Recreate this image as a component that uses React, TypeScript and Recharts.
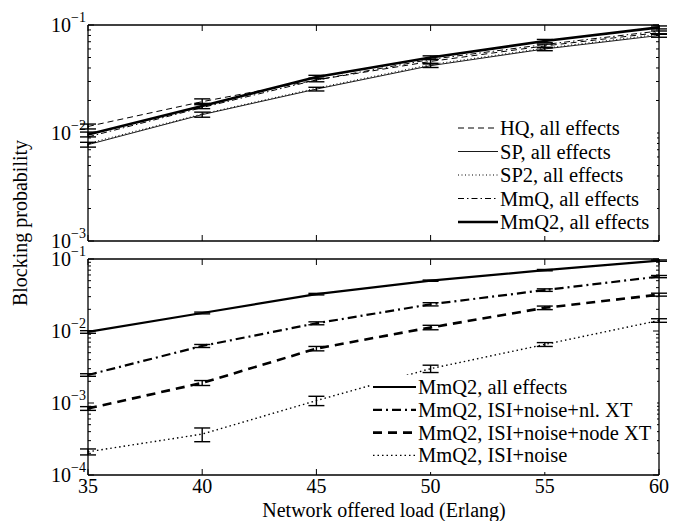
import React from "react";
import { LineChart, Line, XAxis, YAxis, ErrorBar } from "recharts";

// offered load (Erlang)
const loads = [35, 40, 45, 50, 55, 60];

// top panel: all effects, per routing scheme
const hq = [0.0115, 0.0195, 0.031, 0.046, 0.064, 0.085];
const sp = [0.0078, 0.0148, 0.0255, 0.042, 0.06, 0.08];
const sp2 = [0.008, 0.015, 0.026, 0.043, 0.061, 0.082];
const mmq = [0.0092, 0.0172, 0.031, 0.048, 0.066, 0.088];
const mmq2 = [0.0097, 0.0178, 0.033, 0.05, 0.071, 0.095];
const hqErr = [0.0006, 0.0012, 0.0012, 0.0018, 0.0025, 0.003];
const spErr = [0.0004, 0.0008, 0.001, 0.0016, 0.0022, 0.003];
const mmq2Err = [0.0005, 0.001, 0.0012, 0.0018, 0.0025, 0.003];

// bottom panel: MmQ2 with effects switched off
const allEffects = [0.0097, 0.0178, 0.0325, 0.05, 0.07, 0.095];
const nlXT = [0.00245, 0.0062, 0.0128, 0.0235, 0.037, 0.057];
const nodeXT = [0.00084, 0.0019, 0.0057, 0.0112, 0.021, 0.032];
const isiNoise = [0.00021, 0.00037, 0.00108, 0.003, 0.0065, 0.014];
const allEffectsErr = [0.0004, 0.0005, 0.0008, 0.001, 0.0015, 0.002];
const nlXTErr = [0.0001, 0.0003, 0.0006, 0.0012, 0.0015, 0.002];
const nodeXTErr = [0.00005, 0.00015, 0.0004, 0.0008, 0.0012, 0.0015];
const isiNoiseErr = [0.00002, 0.00008, 0.00016, 0.00035, 0.0004, 0.0008];

const xTicks = [35, 40, 45, 50, 55, 60];
const topTicks = [1e-3, 2e-3, 3e-3, 4e-3, 5e-3, 6e-3, 7e-3, 8e-3, 9e-3, 1e-2, 2e-2, 3e-2, 4e-2, 5e-2, 6e-2, 7e-2, 8e-2, 9e-2, 1e-1];
const bottomTicks = [1e-4, 2e-4, 3e-4, 4e-4, 5e-4, 6e-4, 7e-4, 8e-4, 9e-4, ...topTicks];

const topData = loads.map((x, i) => ({
  x, hq: hq[i], sp: sp[i], sp2: sp2[i], mmq: mmq[i], mmq2: mmq2[i],
  hqErr: hqErr[i], spErr: spErr[i], mmq2Err: mmq2Err[i],
}));
const bottomData = loads.map((x, i) => ({
  x, all: allEffects[i], nl: nlXT[i], node: nodeXT[i], isi: isiNoise[i],
  allErr: allEffectsErr[i], nlErr: nlXTErr[i], nodeErr: nodeXTErr[i], isiErr: isiNoiseErr[i],
}));

const FONT = "'Liberation Serif', 'Times New Roman', serif";

const isDecade = (v: number) => Math.abs(Math.log10(v) - Math.round(Math.log10(v))) < 1e-6;

function LeftTick({ x, y, payload }: any) {
  const v = payload.value;
  const major = isDecade(v);
  const exp = -Math.round(Math.log10(v));
  return (
    <g>
      <line x1={x} x2={x + (major ? 6 : 3)} y1={y} y2={y} stroke="#000" strokeWidth={1} />
      {major && (
        <text x={x - 2} y={y + 7} textAnchor="end" fontSize={20} fontFamily={FONT} fill="#000">
          10<tspan dy={-10} fontSize={14}>{`\u2212${exp}`}</tspan>
        </text>
      )}
    </g>
  );
}

function RightTick({ x, y, payload }: any) {
  const major = isDecade(payload.value);
  return <line x1={x} x2={x - (major ? 6 : 3)} y1={y} y2={y} stroke="#000" strokeWidth={1} />;
}

function BottomTick({ x, y, payload, labels }: any) {
  return (
    <g>
      <line x1={x} x2={x} y1={y} y2={y - 6} stroke="#000" strokeWidth={1} />
      {labels && (
        <text x={x} y={y + 18} textAnchor="middle" fontSize={20} fontFamily={FONT} fill="#000">
          {payload.value}
        </text>
      )}
    </g>
  );
}

function TopTick({ x, y }: any) {
  return <line x1={x} x2={x} y1={y} y2={y + 6} stroke="#000" strokeWidth={1} />;
}

function Axes({ ticks, domain, labels, bottomH, topH }: { ticks: number[]; domain: [number, number]; labels: boolean; bottomH: number; topH: number }) {
  const axisLine = { stroke: "#000", strokeWidth: 1.3 };
  return [
    <XAxis key="xb" dataKey="x" type="number" domain={[35, 60]} ticks={xTicks} height={bottomH}
      tickSize={0} tickMargin={0} tickLine={false} axisLine={axisLine}
      tick={<BottomTick labels={labels} />} interval={0} />,
    <XAxis key="xt" xAxisId="t" dataKey="x" type="number" orientation="top" domain={[35, 60]} ticks={xTicks}
      height={topH} tickSize={0} tickMargin={0} tickLine={false} axisLine={axisLine} tick={<TopTick />} interval={0} />,
    <YAxis key="yl" type="number" scale="log" domain={domain} allowDataOverflow ticks={ticks} width={88}
      tickSize={0} tickMargin={0} tickLine={false} axisLine={axisLine} tick={<LeftTick />} interval={0} />,
    <YAxis key="yr" yAxisId="r" orientation="right" type="number" scale="log" domain={domain} allowDataOverflow
      ticks={ticks} width={24} tickSize={0} tickMargin={0} tickLine={false} axisLine={axisLine}
      tick={<RightTick />} interval={0} />,
  ];
}

const eb = (key: string) => (
  <ErrorBar dataKey={key} width={8} stroke="#000" strokeWidth={1.4} direction="y" isAnimationActive={false} />
);

type LegendRow = { label: string; dash?: string; width: number };

const topLegend: LegendRow[] = [
  { label: "HQ, all effects", dash: "6 4", width: 1 },
  { label: "SP, all effects", width: 0.9 },
  { label: "SP2, all effects", dash: "1 2.5", width: 1 },
  { label: "MmQ, all effects", dash: "6 3 1.5 3", width: 1 },
  { label: "MmQ2, all effects", width: 2.6 },
];
const bottomLegend: LegendRow[] = [
  { label: "MmQ2, all effects", width: 2.2 },
  { label: "MmQ2, ISI+noise+nl. XT", dash: "9 4 2 4", width: 2.2 },
  { label: "MmQ2, ISI+noise+node XT", dash: "9 6", width: 2.6 },
  { label: "MmQ2, ISI+noise", dash: "1.5 3", width: 1.4 },
];

function LegendBox({ rows, x, y, w, h, lineW, step, fs }: { rows: LegendRow[]; x: number; y: number; w: number; h: number; lineW: number; step: number; fs: number }) {
  return (
    <g>
      <rect x={x} y={y} width={w} height={h} fill="#fff" />
      {rows.map((r, i) => {
        const cy = y + 12 + i * step;
        return (
          <g key={r.label}>
            <line x1={x + 3} x2={x + 3 + lineW} y1={cy} y2={cy} stroke="#000" strokeWidth={r.width}
              strokeDasharray={r.dash} />
            <text x={x + lineW + 5} y={cy + 7} fontSize={fs} fontFamily={FONT} fill="#000">{r.label}</text>
          </g>
        );
      })}
    </g>
  );
}

export default function App() {
  return (
    <div style={{ position: "absolute", left: 0, top: 0, width: 683, height: 521, background: "#fff", fontFamily: FONT }}>
      <div style={{ position: "absolute", left: 0, top: 0 }}>
        <LineChart width={683} height={262} data={topData} margin={{ top: 0, right: 0, bottom: 0, left: 0 }}>
          {Axes({ ticks: topTicks, domain: [1e-3, 1e-1], labels: false, bottomH: 21, topH: 25 })}
          <Line dataKey="sp" stroke="#000" strokeWidth={0.9} dot={false} isAnimationActive={false}>{eb("spErr")}</Line>
          <Line dataKey="sp2" stroke="#000" strokeWidth={1} strokeDasharray="1 2.5" dot={false} isAnimationActive={false} />
          <Line dataKey="hq" stroke="#000" strokeWidth={1} strokeDasharray="6 4" dot={false} isAnimationActive={false}>{eb("hqErr")}</Line>
          <Line dataKey="mmq" stroke="#000" strokeWidth={1} strokeDasharray="6 3 1.5 3" dot={false} isAnimationActive={false} />
          <Line dataKey="mmq2" stroke="#000" strokeWidth={2.6} dot={false} isAnimationActive={false}>{eb("mmq2Err")}</Line>
        </LineChart>
      </div>
      <div style={{ position: "absolute", left: 0, top: 232 }}>
        <LineChart width={683} height={289} data={bottomData} margin={{ top: 0, right: 0, bottom: 0, left: 0 }}>
          {Axes({ ticks: bottomTicks, domain: [1e-4, 1e-1], labels: true, bottomH: 46, topH: 27 })}
          <Line dataKey="all" stroke="#000" strokeWidth={2.2} dot={false} isAnimationActive={false}>{eb("allErr")}</Line>
          <Line dataKey="nl" stroke="#000" strokeWidth={2.2} strokeDasharray="9 4 2 4" dot={false} isAnimationActive={false}>{eb("nlErr")}</Line>
          <Line dataKey="node" stroke="#000" strokeWidth={2.6} strokeDasharray="9 6" dot={false} isAnimationActive={false}>{eb("nodeErr")}</Line>
          <Line dataKey="isi" stroke="#000" strokeWidth={1.4} strokeDasharray="1.5 3" dot={false} isAnimationActive={false}>{eb("isiErr")}</Line>
        </LineChart>
      </div>
      <svg width={683} height={521} style={{ position: "absolute", left: 0, top: 0, pointerEvents: "none" }}>
        <LegendBox rows={topLegend} x={455} y={116} w={202} h={120} lineW={40} step={23.5} fs={20.5} />
        <LegendBox rows={bottomLegend} x={370} y={375} w={287} h={97} lineW={43} step={22.8} fs={20.5} />
        <text transform="translate(27,223) rotate(-90)" textAnchor="middle" fontSize={20} fontFamily={FONT} fill="#000">
          Blocking probability
        </text>
        <text x={384} y={516.5} textAnchor="middle" fontSize={20} fontFamily={FONT} fill="#000">
          Network offered load (Erlang)
        </text>
      </svg>
    </div>
  );
}
